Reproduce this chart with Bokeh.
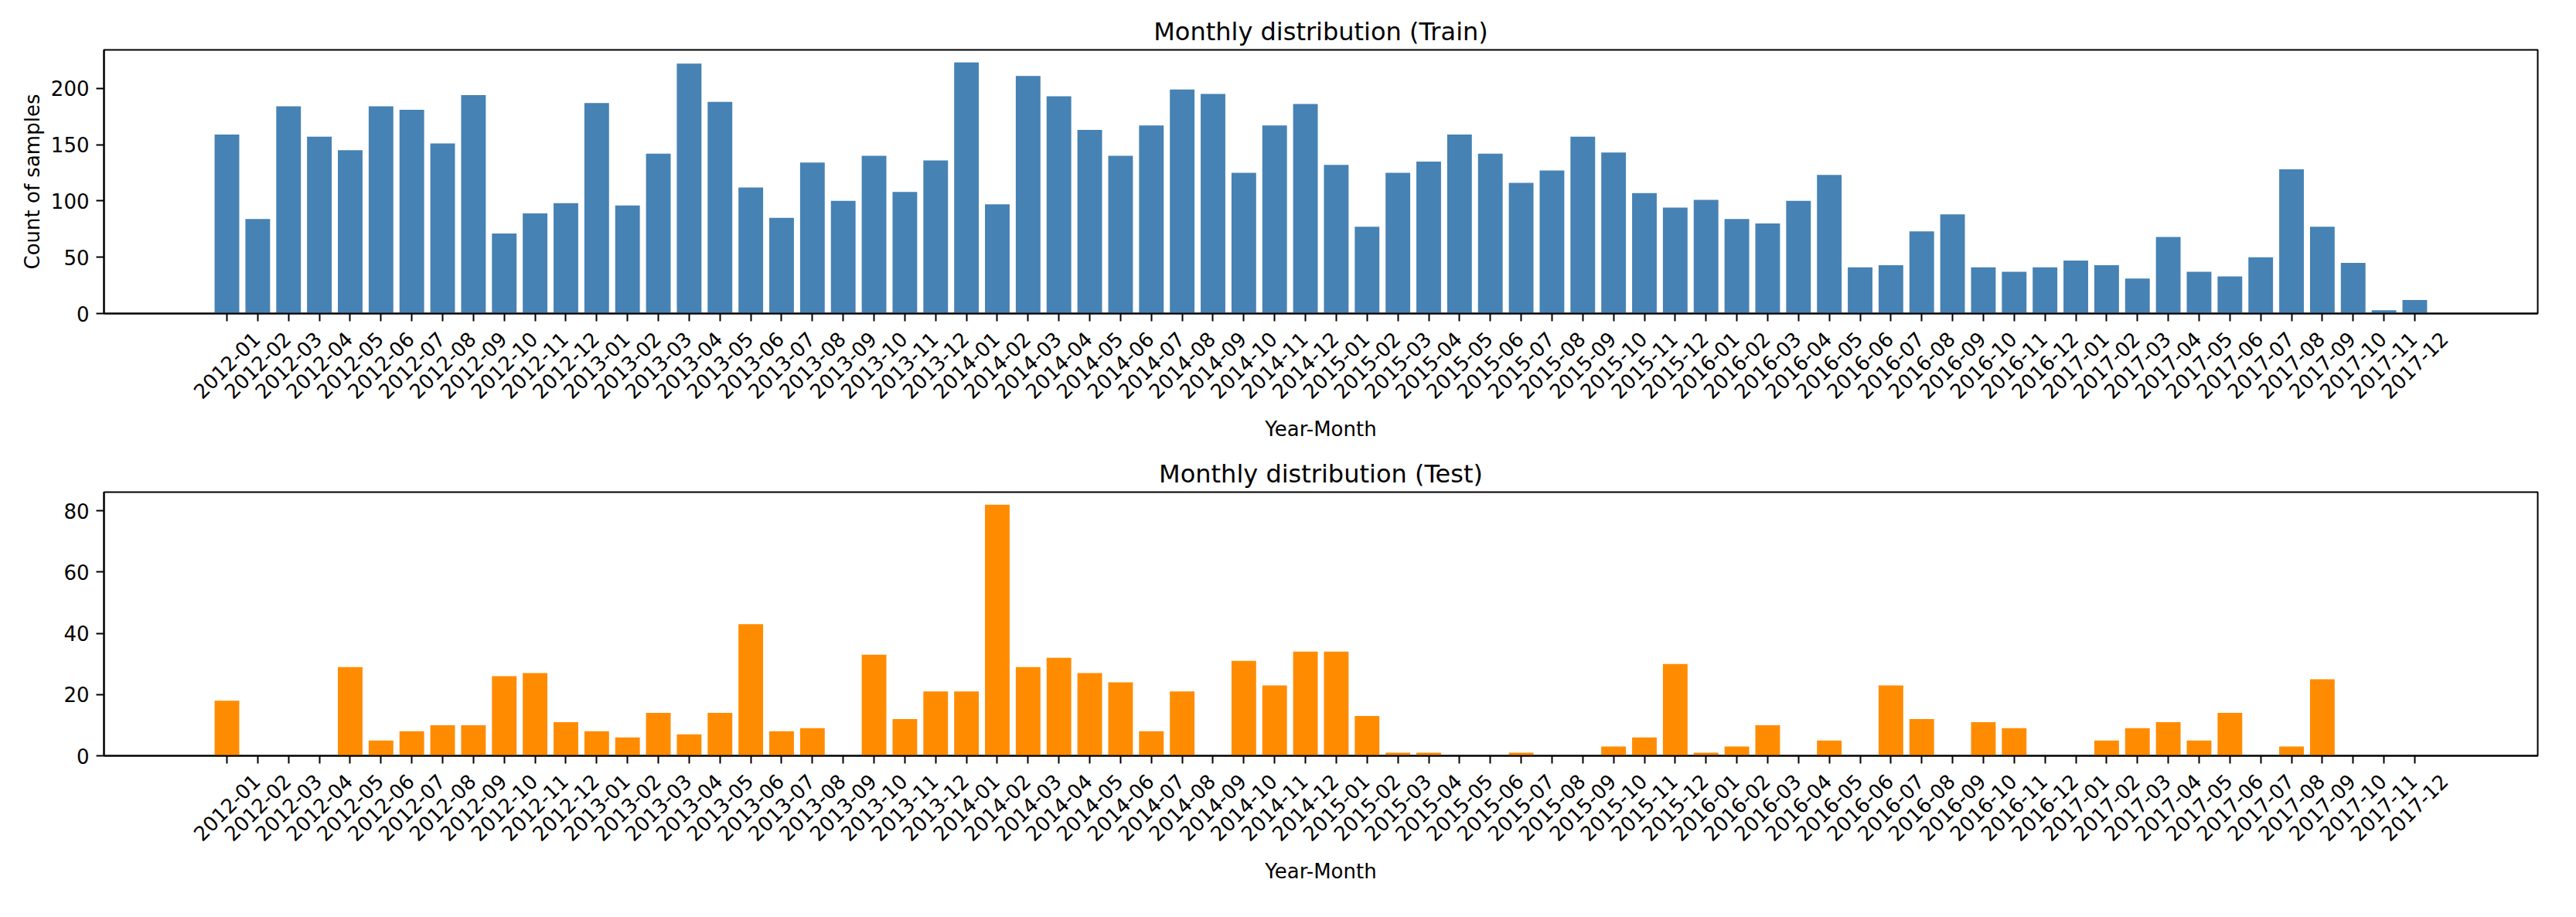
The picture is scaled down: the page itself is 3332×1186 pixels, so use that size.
import math
from bokeh.plotting import figure
from bokeh.models import Range1d, FixedTicker, LinearAxis, CustomJSTickFormatter
from bokeh.layouts import column
from bokeh.embed import file_html
from bokeh.resources import INLINE

months = [f"{y}-{m:02d}" for y in range(2012, 2018) for m in range(1, 13)]

train_counts = [159, 84, 184, 157, 145, 184, 181, 151, 194, 71, 89, 98,
                187, 96, 142, 222, 188, 112, 85, 134, 100, 140, 108, 136,
                223, 97, 211, 193, 163, 140, 167, 199, 195, 125, 167, 186,
                132, 77, 125, 135, 159, 142, 116, 127, 157, 143, 107, 94,
                101, 84, 80, 100, 123, 41, 43, 73, 88, 41, 37, 41,
                47, 43, 31, 68, 37, 33, 50, 128, 77, 45, 3, 12]

test_counts = [18, 0, 0, 0, 29, 5, 8, 10, 10, 26, 27, 11,
               8, 6, 14, 7, 14, 43, 8, 9, 0, 33, 12, 21,
               21, 82, 29, 32, 27, 24, 8, 21, 0, 31, 23, 34,
               34, 13, 1, 1, 0, 0, 1, 0, 0, 3, 6, 30,
               1, 3, 10, 0, 5, 0, 23, 12, 0, 11, 9, 0,
               0, 5, 9, 11, 5, 14, 0, 3, 25, 0, 0, 0]

train_yticks = [0, 50, 100, 150, 200]
test_yticks = [0, 20, 40, 60, 80]

FONT = "DejaVu Sans"
FW, FH = 3148, 341
SHIFT = 0.95  # label-axis offset so rotated labels are centred on the ticks


def make_panel(counts, color, title, yticks, ylabel, top_border, bottom_border):
    idx = list(range(len(counts)))
    n = len(counts)
    span = (n - 1 + 0.8)
    lo = -0.4 - 0.05 * span
    hi = n - 1 + 0.4 + 0.05 * span
    ymax = max(counts) * 1.05
    p = figure(frame_width=FW, frame_height=FH,
               x_range=Range1d(lo, hi), y_range=Range1d(0, ymax),
               output_backend="svg", toolbar_location=None,
               min_border_left=134, min_border_right=34,
               min_border_top=top_border, min_border_bottom=bottom_border)
    p.title.text = title
    p.title.align = "center"
    p.title.text_font = FONT
    p.title.text_font_size = "32px"
    p.title.text_font_style = "normal"
    p.title.text_color = "black"
    p.title.standoff = 10

    p.vbar(x=idx, top=counts, width=0.8, bottom=0,
           fill_color=color, line_color=None)
    p.xgrid.visible = False
    p.ygrid.visible = False
    p.outline_line_color = "black"
    p.outline_line_width = 2
    p.outline_line_alpha = 1
    p.background_fill_color = "white"
    p.border_fill_color = "white"

    # tick marks only
    xa = p.xaxis[0]
    xa.ticker = FixedTicker(ticks=idx)
    xa.formatter = CustomJSTickFormatter(code="return ''")
    xa.major_label_standoff = 0
    xa.major_tick_out = 10
    xa.major_tick_in = 0
    xa.minor_tick_out = 0
    xa.minor_tick_in = 0
    xa.major_tick_line_width = 2
    xa.axis_line_width = 2
    xa.axis_line_color = "black"
    xa.major_tick_line_color = "black"

    # rotated month labels
    la = LinearAxis(ticker=FixedTicker(ticks=[i + SHIFT for i in idx]),
                    formatter=CustomJSTickFormatter(
                        args=dict(labels=months, d=SHIFT),
                        code="return labels[Math.round(tick - d)]"))
    la.major_label_orientation = math.pi / 4
    la.major_label_text_font = FONT
    la.major_label_text_font_size = "26px"
    la.major_label_text_color = "black"
    la.major_label_standoff = 18
    la.major_tick_out = 0
    la.major_tick_in = 0
    la.minor_tick_out = 0
    la.minor_tick_in = 0
    la.axis_line_color = None
    la.major_tick_line_color = None
    la.minor_tick_line_color = None
    la.axis_label = "Year-Month"
    la.axis_label_text_font = FONT
    la.axis_label_text_font_size = "26px"
    la.axis_label_text_font_style = "normal"
    la.axis_label_text_color = "black"
    la.axis_label_standoff = 13
    p.add_layout(la, "below")

    ya = p.yaxis[0]
    ya.ticker = FixedTicker(ticks=yticks)
    ya.major_label_text_font = FONT
    ya.major_label_text_font_size = "26px"
    ya.major_label_text_color = "black"
    ya.major_tick_out = 10
    ya.major_tick_in = 0
    ya.minor_tick_out = 0
    ya.minor_tick_in = 0
    ya.major_tick_line_width = 2
    ya.major_label_standoff = 9
    ya.axis_line_width = 2
    ya.axis_line_color = "black"
    if ylabel:
        ya.axis_label = ylabel
        ya.axis_label_text_font = FONT
        ya.axis_label_text_font_size = "26px"
        ya.axis_label_text_font_style = "normal"
        ya.axis_label_text_color = "black"
        ya.axis_label_standoff = 6
    return p


p1 = make_panel(train_counts, "#4682B4", "Monthly distribution (Train)",
                train_yticks, "Count of samples", 64, 170)
p2 = make_panel(test_counts, "#FF8C00", "Monthly distribution (Test)",
                test_yticks, None, 61, 180)

layout = column(p1, p2, spacing=0)
open("out.html", "w").write(file_html(layout, INLINE))
